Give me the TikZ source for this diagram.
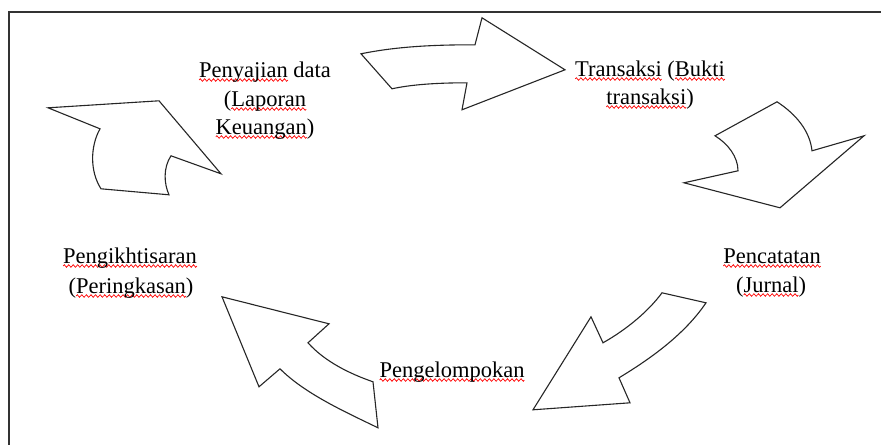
\documentclass[tikz,border=0pt]{standalone}
\usepackage{fontspec}
\setmainfont{Liberation Serif}
\usepackage{xcolor}
\newsavebox\wavebox
\newcommand\makewavebox{\sbox\wavebox{\begin{pgfpicture}%
  \pgfsetlinewidth{0.7pt}\pgfsetstrokecolor{red}%
  \pgfpathmoveto{\pgfpoint{0pt}{0pt}}%
  \pgfpathsine{\pgfpoint{1.1pt}{1.3pt}}%
  \pgfpathcosine{\pgfpoint{1.1pt}{-1.3pt}}%
  \pgfpathsine{\pgfpoint{1.1pt}{-1.3pt}}%
  \pgfpathcosine{\pgfpoint{1.1pt}{1.3pt}}%
  \pgfusepath{stroke}%
  \pgfresetboundingbox
  \pgfpathrectangle{\pgfpoint{0pt}{-1.8pt}}{\pgfpoint{4.4pt}{3.6pt}}%
  \pgfusepath{use as bounding box}%
  \end{pgfpicture}}}
\newcommand\wv[1]{\setbox0\hbox{#1}\rlap{\lower4pt\hbox to \wd0{\xleaders\copy\wavebox\hfill}}\box0\relax}
\begin{document}
\begin{tikzpicture}[x=1pt,y=-1pt,
  arrowshape/.style={draw=black!85, line width=1.1pt, line join=miter, fill=white},
  frameline/.style={draw=black!80, line width=1.4pt},
  lbl/.style={anchor=base, inner sep=0pt, font=\fontsize{22.5}{29}\selectfont, text=black}]
\makewavebox
\useasboundingbox (0,0) rectangle (881,443);
% frame
\coordinate (fa) at (881,10);
\coordinate (fb) at (9,10);
\coordinate (fc) at (9,443);
\draw[frameline] (fa) -- (fb) -- (fc);
% top arrow (right)
\draw[arrowshape] (361,52) .. controls (400,44) and (440,43) .. (475,43)
  -- (482,16) -- (565,68) -- (462,108) -- (467,81)
  .. controls (435,81) and (410,83) .. (392,87) -- cycle;
% right-top arrow (down)
\draw[arrowshape] (777,100) .. controls (797,113) and (810,130) .. (812,149)
  -- (864,134) -- (780,206) -- (684,181) -- (738,169)
  .. controls (738,155) and (728,142) .. (715,134) -- cycle;
% bottom-right arrow (down-left)
\draw[arrowshape] (662,291) -- (706,301)
  .. controls (685,332) and (652,356) .. (619,376)
  -- (630,401) -- (533,408) -- (591,315) -- (603,341)
  .. controls (626,328) and (648,310) .. cycle;
% bottom-left arrow (up-left)
\draw[arrowshape] (222,295) -- (329,322) -- (308,341)
  .. controls (325,360) and (350,372) .. (373,380)
  -- (378,426)
  .. controls (345,410) and (305,392) .. (280,367)
  -- (259,385) -- cycle;
% left arrow (up-right)
\draw[arrowshape] (48,106) -- (159,99) -- (221,172) -- (171,154)
  .. controls (163,166) and (164,182) .. (169,193)
  -- (101,187)
  .. controls (90,170) and (90,145) .. (100,127) -- cycle;
% labels
\node[lbl] (pen1) at (265,76) {\wv{Penyajian} data};
\node[lbl] (pen2) at (265,105) {(\wv{Laporan}};
\node[lbl] (pen3) at (265,133) {\wv{Keuangan})};
\node[lbl] (tr1) at (650,75) {\wv{Transaksi} (\wv{Bukti}};
\node[lbl] (tr2) at (650,103) {\wv{transaksi})};
\node[lbl] (pc1) at (772,262) {\wv{Pencatatan}};
\node[lbl] (pc2) at (771,291) {(\wv{Jurnal})};
\node[lbl] (pg) at (452,376) {\wv{Pengelompokan}};
\node[lbl] (pk1) at (130,262) {\wv{Pengikhtisaran}};
\node[lbl] (pk2) at (131,292) {(\wv{Peringkasan})};
\end{tikzpicture}
\end{document}
